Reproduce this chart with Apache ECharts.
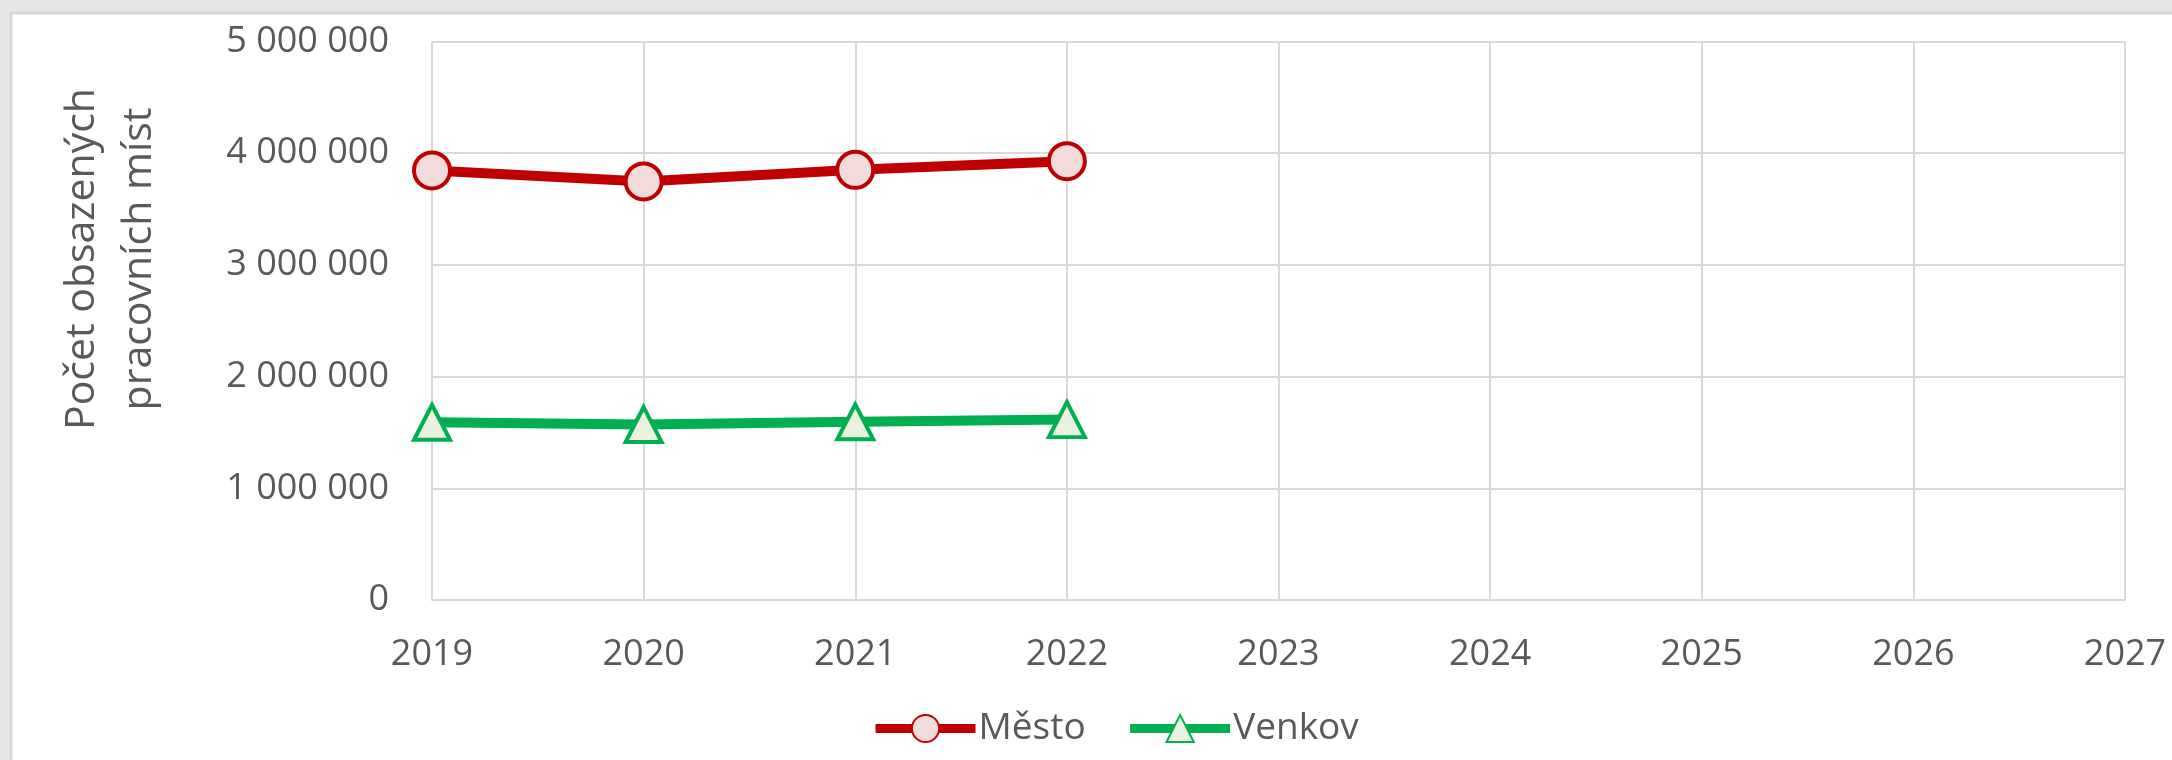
<!DOCTYPE html>
<html>
<head>
<meta charset="utf-8">
<title>Počet obsazených pracovních míst</title>
<script src="https://cdn.jsdelivr.net/npm/echarts@6.0.0/dist/echarts.min.js"></script>
<style>
html, body { margin: 0; padding: 0; background: #e6e6e6; }
#plot { width: 2172px; height: 760px; }
</style>
</head>
<body>
<div id="plot"></div>
<script>
var years = [2019, 2020, 2021, 2022];
var mesto = [3846000, 3747000, 3851000, 3929000];
var venkov = [1591000, 1571000, 1595000, 1615000];
var seriesNames = ['Město', 'Venkov'];
var axisTitle = 'Počet obsazených\npracovních míst';

var textColor = '#595959';
var gridColor = '#d9d9d9';
var font = '"Open Sans", "Noto Sans", sans-serif';

function pairs (xs, ys) {
	var out = [];
	for (var i = 0; i < xs.length; i++)
		out.push([xs[i], ys[i]]);
	return out;
}

function spaced (v) {
	return String(v).replace(/\B(?=(\d{3})+(?!\d))/g, ' ');
}

function initChart (element) {
	var option = {
		animation: false,
		graphic: [
			{
				type: 'rect', z: -10, silent: true,
				shape: { x: 0, y: 0, width: 2172, height: 760 },
				style: { fill: '#e6e6e6' }
			},
			{
				type: 'rect', z: -9, silent: true,
				shape: { x: 11, y: 13, width: 2170, height: 760 },
				style: { fill: '#ffffff', stroke: '#d6d6d6', lineWidth: 3 }
			},
			{
				type: 'text', z: 5,
				x: 111, y: 259, rotation: Math.PI / 2,
				style: {
					text: axisTitle,
					fill: textColor,
					font: '41px ' + font,
					lineHeight: 57,
					align: 'center',
					verticalAlign: 'middle'
				}
			}
		],
		grid: {
			left: 432,
			right: 47,
			top: 41.5,
			bottom: 160,
			containLabel: false
		},
		legend: {
			left: 866,
			top: 705,
			itemWidth: 100,
			itemHeight: 34,
			itemGap: 40,
			lineStyle: { width: 9 },
			textStyle: { color: textColor, fontSize: 37, fontFamily: font, padding: [0, 0, 0, -2] },
			data: seriesNames
		},
		xAxis: {
			type: 'value',
			min: 2019,
			max: 2027,
			interval: 1,
			axisLine: { show: true, lineStyle: { color: gridColor, width: 2 } },
			axisTick: { show: false },
			splitLine: { show: true, lineStyle: { color: gridColor, width: 2 } },
			axisLabel: {
				color: textColor, fontSize: 36, fontFamily: font, margin: 37,
				formatter: function (v) { return String(v); }
			}
		},
		yAxis: {
			type: 'value',
			min: 0,
			max: 5000000,
			interval: 1000000,
			axisLine: { show: false },
			axisTick: { show: false },
			splitLine: { show: true, lineStyle: { color: gridColor, width: 2 } },
			axisLabel: {
				color: textColor, fontSize: 36, fontFamily: font, margin: 43,
				formatter: spaced
			}
		},
		series: [
			{
				name: seriesNames[0],
				type: 'line',
				data: pairs(years, mesto),
				symbol: 'circle',
				symbolSize: 36,
				lineStyle: { color: '#c00000', width: 10 },
				itemStyle: { color: '#f2dcdb', borderColor: '#c00000', borderWidth: 4 }
			},
			{
				name: seriesNames[1],
				type: 'line',
				data: pairs(years, venkov),
				symbol: 'triangle',
				symbolSize: [36, 35],
				lineStyle: { color: '#00b050', width: 10 },
				itemStyle: { color: '#ebf1de', borderColor: '#00b050', borderWidth: 4 }
			}
		]
	};

	var myChart = echarts.init(document.getElementById(element));
	myChart.setOption(option);
}

initChart('plot');
</script>
</body>
</html>
